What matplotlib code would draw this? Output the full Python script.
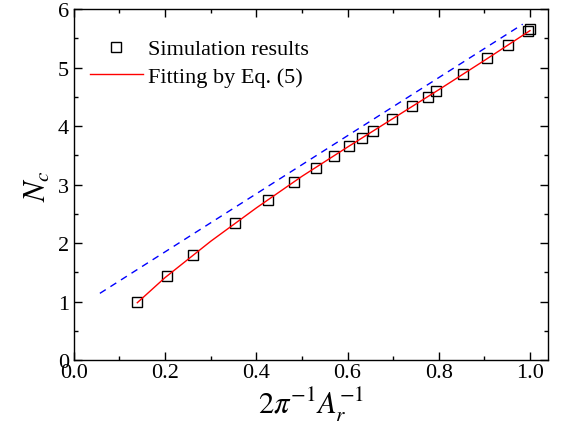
import matplotlib
matplotlib.use("Agg")
import matplotlib.pyplot as plt
from matplotlib.ticker import MultipleLocator

plt.rcParams["font.family"] = ["Liberation Serif", "DejaVu Serif"]
plt.rcParams["mathtext.fontset"] = "stix"

# simulation results
sim_x = [0.139, 0.204, 0.262, 0.353, 0.426, 0.482, 0.530, 0.570, 0.603,
         0.632, 0.656, 0.697, 0.742, 0.777, 0.794, 0.854, 0.906, 0.951,
         0.996, 1.000]
sim_y = [0.99, 1.43, 1.79, 2.34, 2.74, 3.05, 3.29, 3.49, 3.66,
         3.79, 3.91, 4.12, 4.34, 4.50, 4.60, 4.89, 5.16, 5.39,
         5.62, 5.65]

# fitting curve, Eq. (5)
fit_x = [0.139, 0.2, 0.3, 0.4, 0.5, 0.6, 0.7, 0.8, 0.9, 1.0]
fit_y = [0.98, 1.41, 2.03, 2.60, 3.14, 3.64, 4.13, 4.62, 5.12, 5.63]

# dashed reference line
ref_x = [0.057, 0.984]
ref_y = [1.14, 5.74]

fig = plt.figure(figsize=(5.64, 4.35), dpi=100)
ax = fig.add_axes([0.131, 0.170, 0.841, 0.807])

ax.plot(ref_x, ref_y, color="blue", linestyle=(0, (5, 4)), linewidth=1)
ax.plot(sim_x, sim_y, linestyle="none", marker="s", markersize=7,
        markerfacecolor="none", markeredgecolor="black",
        markeredgewidth=1, label="Simulation results")
ax.plot(fit_x, fit_y, color="red", linewidth=1, label="Fitting by Eq. (5)")

ax.set_xlim(0, 1.04)
ax.set_ylim(0, 6)

ax.xaxis.set_major_locator(MultipleLocator(0.2))
ax.xaxis.set_minor_locator(MultipleLocator(0.1))
ax.yaxis.set_major_locator(MultipleLocator(1))
ax.yaxis.set_minor_locator(MultipleLocator(0.5))
ax.xaxis.set_major_formatter(matplotlib.ticker.FormatStrFormatter("%.1f"))

ax.tick_params(which="both", direction="in", top=True, right=True,
               labelsize=16, width=1)
ax.tick_params(which="major", length=6)
ax.tick_params(which="minor", length=3)
ax.tick_params(axis="x", pad=2)

for s in ax.spines.values():
    s.set_linewidth(1)

ax.set_xlabel(r"$2\pi^{-1}A_r^{-1}$", fontsize=22, labelpad=2)
ax.set_ylabel(r"$N_c$", fontsize=22, labelpad=4)

ax.legend(loc="upper left", frameon=False, fontsize=16,
          handlelength=2.4, handletextpad=0.25, borderaxespad=0.2,
          bbox_to_anchor=(0.005, 0.953), labelspacing=0.3)

fig.savefig("out.png", dpi=100)
